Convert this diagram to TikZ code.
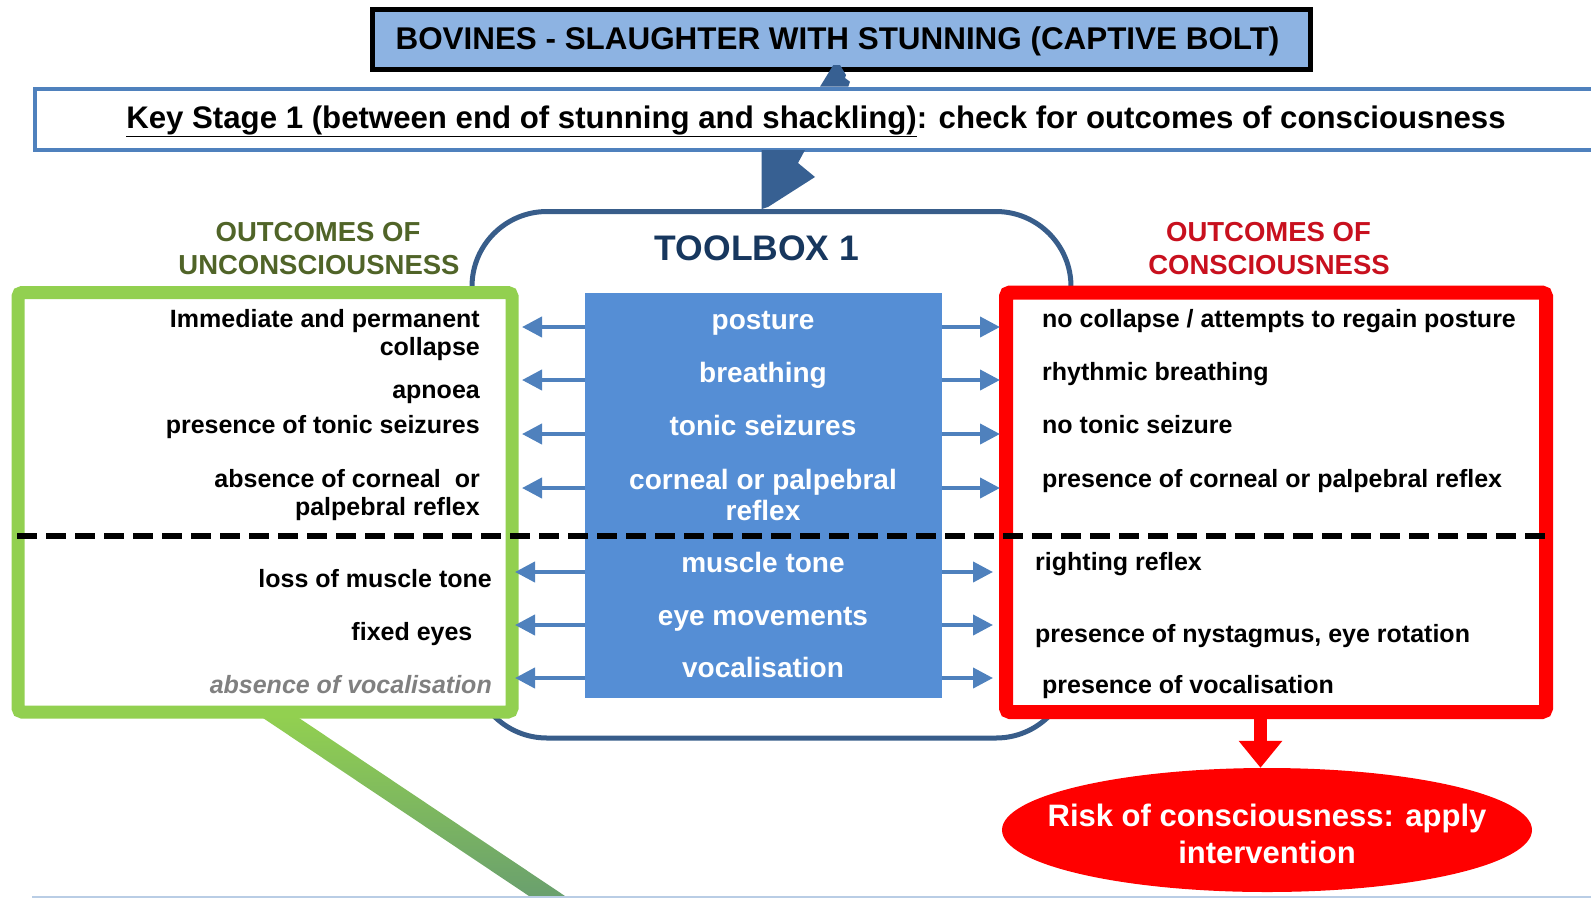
\documentclass[tikz,border=0pt]{standalone}
\usepackage{fontspec}
\setmainfont{Liberation Sans}
\usetikzlibrary{arrows.meta,shapes.geometric}
\definecolor{titlefill}{RGB}{141,179,226}
\definecolor{keyblue}{RGB}{79,129,189}
\definecolor{toolblue}{RGB}{56,93,138}
\definecolor{darkarrow}{RGB}{55,96,146}
\definecolor{centerfill}{RGB}{85,142,213}
\definecolor{smallarrow}{RGB}{79,129,189}
\definecolor{boxgreen}{RGB}{146,208,80}
\definecolor{greenend}{RGB}{106,160,110}
\definecolor{olivetext}{RGB}{80,100,40}
\definecolor{redtext}{RGB}{200,16,30}
\definecolor{toolbtext}{RGB}{23,55,94}
\definecolor{grayital}{RGB}{128,128,128}
\definecolor{bottomline}{RGB}{185,205,229}
\newcommand{\fsz}[1]{\fontsize{#1}{#1}\selectfont}
\begin{document}
\begin{tikzpicture}[x=1pt,y=-1pt,
  txt/.style={inner sep=0pt, font=\bfseries\fsz{25}},
  ltxt/.style={txt, anchor=base east},
  rtxt/.style={txt, anchor=base west},
  ctxt/.style={inner sep=0pt, anchor=base, text=white, font=\bfseries\fsz{28}},
  head/.style={inner sep=0pt, anchor=base, font=\bfseries\fsz{27.5}},
  larrow/.style={draw=smallarrow, line width=4pt, -{Triangle[length=20pt,width=20pt]}},
  outbox/.style={inner sep=0pt, fill=white, rounded corners=4pt}
]
\useasboundingbox (0,0) rectangle (1591,898);
\clip (0,0) rectangle (1591,898);

% key stage box
\node[draw=keyblue, line width=4pt, fill=white, inner sep=0pt,
      minimum width=1585pt, minimum height=61.5pt] (key) at (827.5,119.25) {};
\node[inner sep=0pt, anchor=base, font=\bfseries\fsz{31.2}] (keyt) at (816,128)
  {\underline{Key Stage 1 (between end of stunning and shackling)}: check for outcomes of consciousness};

% title box
\node[draw=black, line width=5pt, fill=titlefill, inner sep=0pt,
      minimum width=938pt, minimum height=60.5pt] (title) at (841.5,39.25) {};
\node[inner sep=0pt, anchor=base, font=\bfseries\fsz{31.4}] (titlet) at (837.5,49.5)
  {BOVINES - SLAUGHTER WITH STUNNING (CAPTIVE BOLT)};

% broken arrow piece between title and key stage
\fill[darkarrow] (820,86.7) -- (833.3,65) -- (840,65) -- (846,75) -- (845,78) -- (850,81.7) -- (848.3,86.7) -- cycle;

% toolbox
\node[draw=toolblue, line width=5pt, rounded corners=75pt, inner sep=0pt,
      minimum width=599pt, minimum height=526.5pt] (tool) at (771.5,474.75) {};
\node[inner sep=0pt, anchor=base, text=toolbtext, font=\bfseries\fsz{35.5}] (toolt) at (757,260) {TOOLBOX 1};

% broken arrow from key stage to toolbox
\fill[darkarrow] (761.7,150) -- (805,150) -- (798,163) -- (815,177) -- (768,207) -- (761.7,209) -- cycle;

% green diagonal connector
\coordinate (g1) at (278,716);
\coordinate (g2) at (547,898);
\shade[top color=boxgreen, bottom color=greenend]
  ([xshift=-18pt]g1) -- ([xshift=18pt]g1) -- ([xshift=18pt,yshift=2pt]g2) -- ([xshift=-18pt,yshift=2pt]g2) -- cycle;

% outcome boxes
\node[outbox, draw=boxgreen, line width=13pt, minimum width=494pt, minimum height=419.5pt] (gbox) at (265,502.25) {};
\node[outbox, draw=red, line width=14pt, minimum width=540pt, minimum height=419.5pt] (rbox) at (1276,502.25) {};

% headings
\node[head, text=olivetext] (gh1) at (318,241.5) {OUTCOMES OF};
\node[head, text=olivetext] (gh2) at (319,274) {UNCONSCIOUSNESS};
\node[head, text=redtext] (rh1) at (1268.5,241.5) {OUTCOMES OF};
\node[head, text=redtext] (rh2) at (1269,274) {CONSCIOUSNESS};

% center box
\node[fill=centerfill, inner sep=0pt, minimum width=356.7pt, minimum height=404.7pt] (cbox) at (763.35,495.65) {};

% rows
\coordinate (y1) at (0,327);
\coordinate (y2) at (0,380);
\coordinate (y3) at (0,434);
\coordinate (y4) at (0,488);
\coordinate (y5) at (0,572);
\coordinate (y6) at (0,625);
\coordinate (y7) at (0,678);

\foreach \r in {y1,y2,y3,y4}{
  \draw[larrow, shorten >=3.5pt] (cbox.west |- \r) -- (gbox.east |- \r);
  \draw[larrow, shorten >=-1pt] (cbox.east |- \r) -- (rbox.west |- \r);
}
\foreach \r in {y5,y6,y7}{
  \draw[larrow, shorten >=-3.5pt] (cbox.west |- \r) -- (gbox.east |- \r);
  \draw[larrow, shorten >=6pt] (cbox.east |- \r) -- (rbox.west |- \r);
}

% center texts
\node[ctxt] (c1) at (763,329) {posture};
\node[ctxt] (c2) at (763,382.5) {breathing};
\node[ctxt] (c3) at (763,435.5) {tonic seizures};
\node[ctxt] (c4a) at (763,489) {corneal or palpebral};
\node[ctxt] (c4b) at (763,520.5) {reflex};
\node[ctxt] (c5) at (763,572.5) {muscle tone};
\node[ctxt] (c6) at (763,625.5) {eye movements};
\node[ctxt] (c7) at (763,677.5) {vocalisation};

% left texts
\node[ltxt] (l1a) at (480,327) {Immediate and permanent};
\node[ltxt] (l1b) at (480,355) {collapse};
\node[ltxt] (l2) at (480,398) {apnoea};
\node[ltxt] (l3) at (480,433) {presence of tonic seizures};
\node[ltxt] (l4a) at (480,487) {absence of corneal~ or};
\node[ltxt] (l4b) at (480,515) {palpebral reflex};
\node[ltxt] (l5) at (492,587) {loss of muscle tone};
\node[ltxt] (l6) at (472.6,640) {fixed eyes};
\node[ltxt, text=grayital, font=\bfseries\itshape\fsz{25}] (l7) at (492,693) {absence of vocalisation};

% right texts
\node[rtxt] (r1) at (1042,327) {no collapse / attempts to regain posture};
\node[rtxt] (r2) at (1042,380) {rhythmic breathing};
\node[rtxt] (r3) at (1042,433) {no tonic seizure};
\node[rtxt] (r4) at (1042,487) {presence of corneal or palpebral reflex};
\node[rtxt] (r5) at (1035,570) {righting reflex};
\node[rtxt] (r6) at (1035,642) {presence of nystagmus, eye rotation};
\node[rtxt] (r7) at (1042,693) {presence of vocalisation};

% dashed divider
\coordinate (d1) at (17,536);
\coordinate (d2) at (1553,536);
\draw[line width=6pt, dash pattern=on 20pt off 9pt] (d1) -- (d2);

% risk ellipse
\node[ellipse, fill=red, inner sep=0pt, minimum width=530pt, minimum height=124pt] (ell) at (1267,830) {};
\node[inner sep=0pt, anchor=base, text=white, font=\bfseries\fsz{31}] (e1) at (1267,826.7) {Risk of consciousness: apply};
\node[inner sep=0pt, anchor=base, text=white, font=\bfseries\fsz{31}] (e2) at (1267,863) {intervention};
\coordinate (ra) at (1260.5,0);
\draw[draw=red, line width=13pt, -{Triangle[length=27pt,width=42pt]}] (rbox.south -| ra) -- (ell.north -| ra);

% bottom line
\coordinate (b1) at (32,897);
\coordinate (b2) at (1600,897);
\draw[draw=bottomline, line width=2pt] (b1) -- (b2);
\end{tikzpicture}
\end{document}
